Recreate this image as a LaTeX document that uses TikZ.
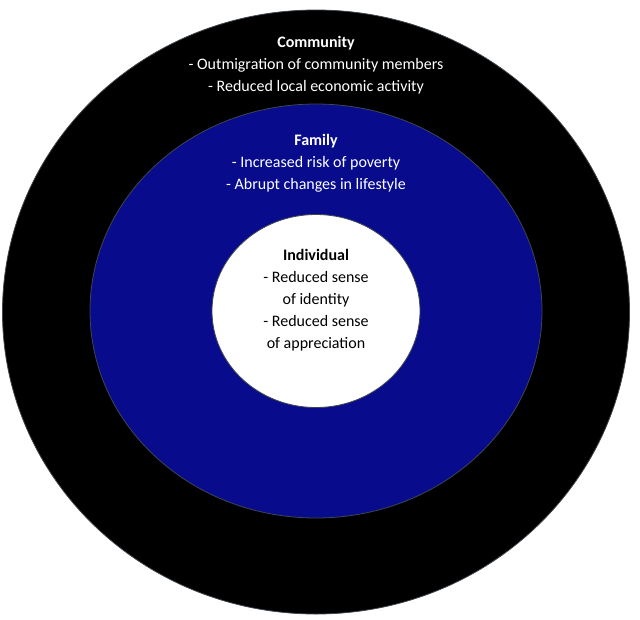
\documentclass[tikz,border=0pt]{standalone}
\usepackage{fontspec}
\setmainfont{Carlito}
\usetikzlibrary{shapes.geometric}
\definecolor{famblue}{RGB}{8,12,140}
\tikzset{
  ring/.style={ellipse, draw=black!80!cyan, line width=0.8pt, inner sep=0pt},
  label/.style={align=center, font=\fontsize{16}{22}\selectfont}
}
\begin{document}
\begin{tikzpicture}[x=1pt, y=-1pt]
  \useasboundingbox (0,0) rectangle (640,619);
  % Rings
  \node[ring, fill=black, minimum width=627pt, minimum height=604pt] (community) at (316,312) {};
  \node[ring, fill=famblue, minimum width=452pt, minimum height=414pt] (family) at (316,311) {};
  \node[ring, fill=white, minimum width=208pt, minimum height=193pt] (individual) at (316,311) {};
  % Texts
  \node[label, text=white] (commtext) at (316,65) {\textbf{Community}\\- Outmigration of community members\\- Reduced local economic activity};
  \node[label, text=white] (famtext) at (316,163) {\textbf{Family}\\- Increased risk of poverty\\- Abrupt changes in lifestyle};
  \node[label, text=black] (indtext) at (316,300) {\textbf{Individual}\\- Reduced sense\\of identity\\- Reduced sense\\of appreciation};
\end{tikzpicture}
\end{document}
